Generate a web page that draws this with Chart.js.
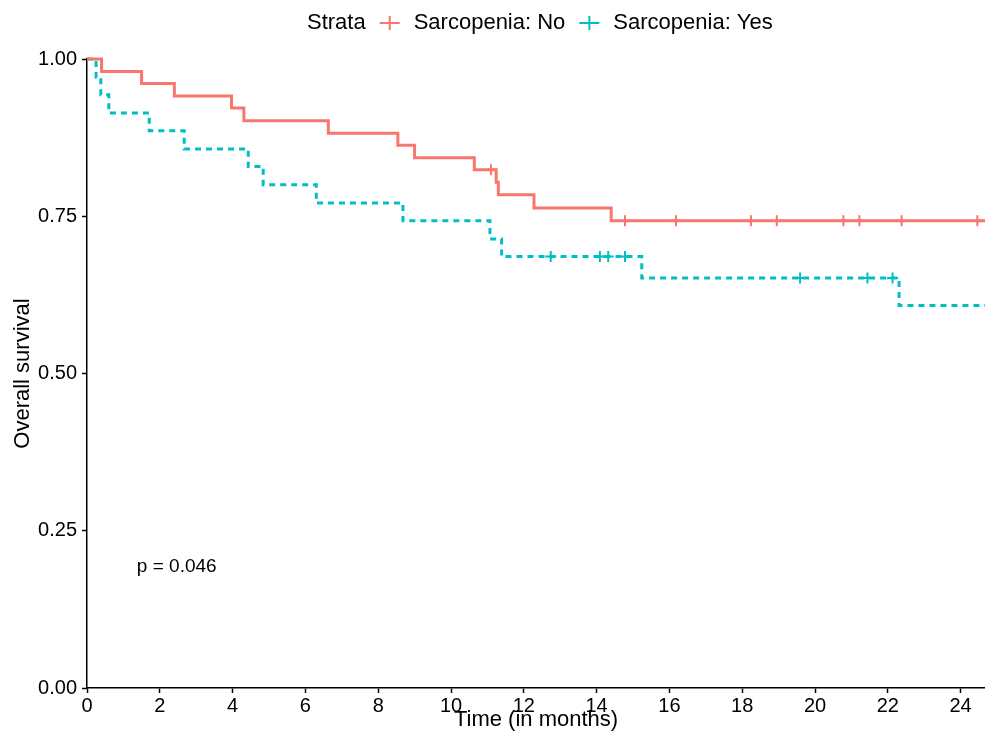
<!DOCTYPE html>
<html>
<head>
<meta charset="utf-8">
<script src="https://cdn.jsdelivr.net/npm/chart.js@4"></script>
<style>
  body { margin: 0; background: #fff; }
  #wrap { width: 985px; height: 734px; }
</style>
</head>
<body>
<div id="wrap"><canvas id="mycanvas" width="985" height="734"></canvas></div>
<script>
// Kaplan-Meier steps
var noTimes = [0, 0.40, 1.50, 2.40, 3.97, 4.31, 6.63, 8.54, 9.00, 10.64, 11.24, 11.30, 12.28, 14.40, 24.67];
var noSurv  = [1, 0.980, 0.961, 0.941, 0.922, 0.902, 0.882, 0.863, 0.843, 0.824, 0.804, 0.784, 0.763, 0.743, 0.743];
var noCensor = [11.10, 14.78, 16.18, 18.24, 18.95, 20.78, 21.22, 22.38, 24.46];

var yesTimes = [0, 0.25, 0.38, 0.60, 1.71, 2.67, 4.43, 4.84, 6.30, 8.68, 11.07, 11.39, 15.24, 22.31, 24.67];
var yesSurv  = [1, 0.971, 0.943, 0.914, 0.886, 0.857, 0.829, 0.800, 0.771, 0.743, 0.714, 0.686, 0.652, 0.608, 0.608];
var yesCensor = [12.74, 14.09, 14.32, 14.78, 19.59, 21.44, 22.13];

var xTicks = [0, 2, 4, 6, 8, 10, 12, 14, 16, 18, 20, 22, 24];
var yTicks = [0, 0.25, 0.5, 0.75, 1];
var strataNames = ["Sarcopenia: No", "Sarcopenia: Yes"];
var pValue = "p = 0.046";

var red = "#F8766D";
var teal = "#00BFC4";
var FONT = "'Liberation Sans', Arial, sans-serif";

function steps(times, surv) {
	var pts = [];
	for (var i in times) pts.push({x: times[i], y: surv[i]});
	return pts;
}

// survival at a censor time = level of the step it sits on
function marks(censor, times, surv) {
	var pts = [];
	for (var i in censor) {
		var s = surv[0];
		for (var j in times) {
			if (times[j] <= censor[i]) s = surv[j];
		}
		pts.push({x: censor[i], y: s});
	}
	return pts;
}

var legendPlugin = {
	id: 'strataLegend',
	afterDraw: function(chart) {
		var ctx = chart.ctx;
		ctx.save();
		ctx.font = "22px " + FONT;
		ctx.textBaseline = "middle";
		ctx.fillStyle = "#000";
		var x = 307, y = 23;
		ctx.fillText("Strata", x, y);
		x += ctx.measureText("Strata").width;
		var cols = [red, teal];
		for (var k = 0; k < strataNames.length; k++) {
			x += 14;
			ctx.strokeStyle = cols[k];
			ctx.lineWidth = 2;
			ctx.beginPath();
			ctx.moveTo(x, y); ctx.lineTo(x + 20, y);
			ctx.moveTo(x + 10, y - 7); ctx.lineTo(x + 10, y + 7);
			ctx.stroke();
			x += 20 + 14;
			ctx.fillText(strataNames[k], x, y);
			x += ctx.measureText(strataNames[k]).width;
		}
		// p value, placed in data coordinates
		ctx.font = "19px " + FONT;
		ctx.textAlign = "left";
		ctx.fillText(pValue, chart.scales.x.getPixelForValue(1.37), chart.scales.y.getPixelForValue(0.193));
		ctx.restore();
	}
};

var ctx = document.getElementById("mycanvas");

var chart = new Chart(ctx, {
	type: 'scatter',
	data: {
		datasets: [
			{
				label: strataNames[0],
				data: steps(noTimes, noSurv),
				showLine: true,
				stepped: 'before',
				borderColor: red,
				borderWidth: 3,
				pointRadius: 0,
				clip: false
			},
			{
				label: strataNames[1],
				data: steps(yesTimes, yesSurv),
				showLine: true,
				stepped: 'before',
				borderColor: teal,
				borderWidth: 3,
				borderDash: [6, 5],
				pointRadius: 0,
				clip: false
			},
			{
				label: 'censor no',
				data: marks(noCensor, noTimes, noSurv),
				showLine: false,
				pointStyle: 'cross',
				pointRadius: 5.5,
				pointBorderWidth: 2,
				borderColor: red,
				clip: false
			},
			{
				label: 'censor yes',
				data: marks(yesCensor, yesTimes, yesSurv),
				showLine: false,
				pointStyle: 'cross',
				pointRadius: 5.5,
				pointBorderWidth: 2,
				borderColor: teal,
				clip: false
			}
		]
	},
	options: {
		responsive: false,
		animation: false,
		layout: { autoPadding: false, padding: { top: 59, right: 0, left: 0, bottom: 0 } },
		plugins: {
			legend: { display: false },
			tooltip: { enabled: false }
		},
		scales: {
			x: {
				type: 'linear',
				min: 0,
				max: 24.67,
				afterFit: function(s) { s.height = 46; s.paddingRight = 0; s.paddingLeft = 0; },
				afterBuildTicks: function(s) { s.ticks = xTicks.map(function(v) { return {value: v}; }); },
				ticks: { color: '#000', font: { size: 20, family: FONT }, padding: 1, maxRotation: 0, autoSkip: false },
				grid: { drawOnChartArea: false, drawTicks: true, tickLength: 5, color: '#000', tickWidth: 1.5 },
				border: { display: true, color: '#000', width: 1.5 },
				title: { display: true, text: 'Time (in months)', color: '#000', font: { size: 22, family: FONT }, padding: { top: 0, bottom: 1 } }
			},
			y: {
				type: 'linear',
				min: 0,
				max: 1,
				afterFit: function(s) { s.width = 87; },
				afterBuildTicks: function(s) { s.ticks = yTicks.map(function(v) { return {value: v}; }); },
				ticks: { color: '#000', font: { size: 20, family: FONT }, padding: 5, callback: function(v) { return v.toFixed(2); } },
				grid: { drawOnChartArea: false, drawTicks: true, tickLength: 5, color: '#000', tickWidth: 1.5 },
				border: { display: true, color: '#000', width: 1.5 },
				title: { display: true, text: 'Overall survival', color: '#000', font: { size: 22, family: FONT }, padding: { top: 10, bottom: 0 } }
			}
		}
	},
	plugins: [legendPlugin]
});
</script>
</body>
</html>
